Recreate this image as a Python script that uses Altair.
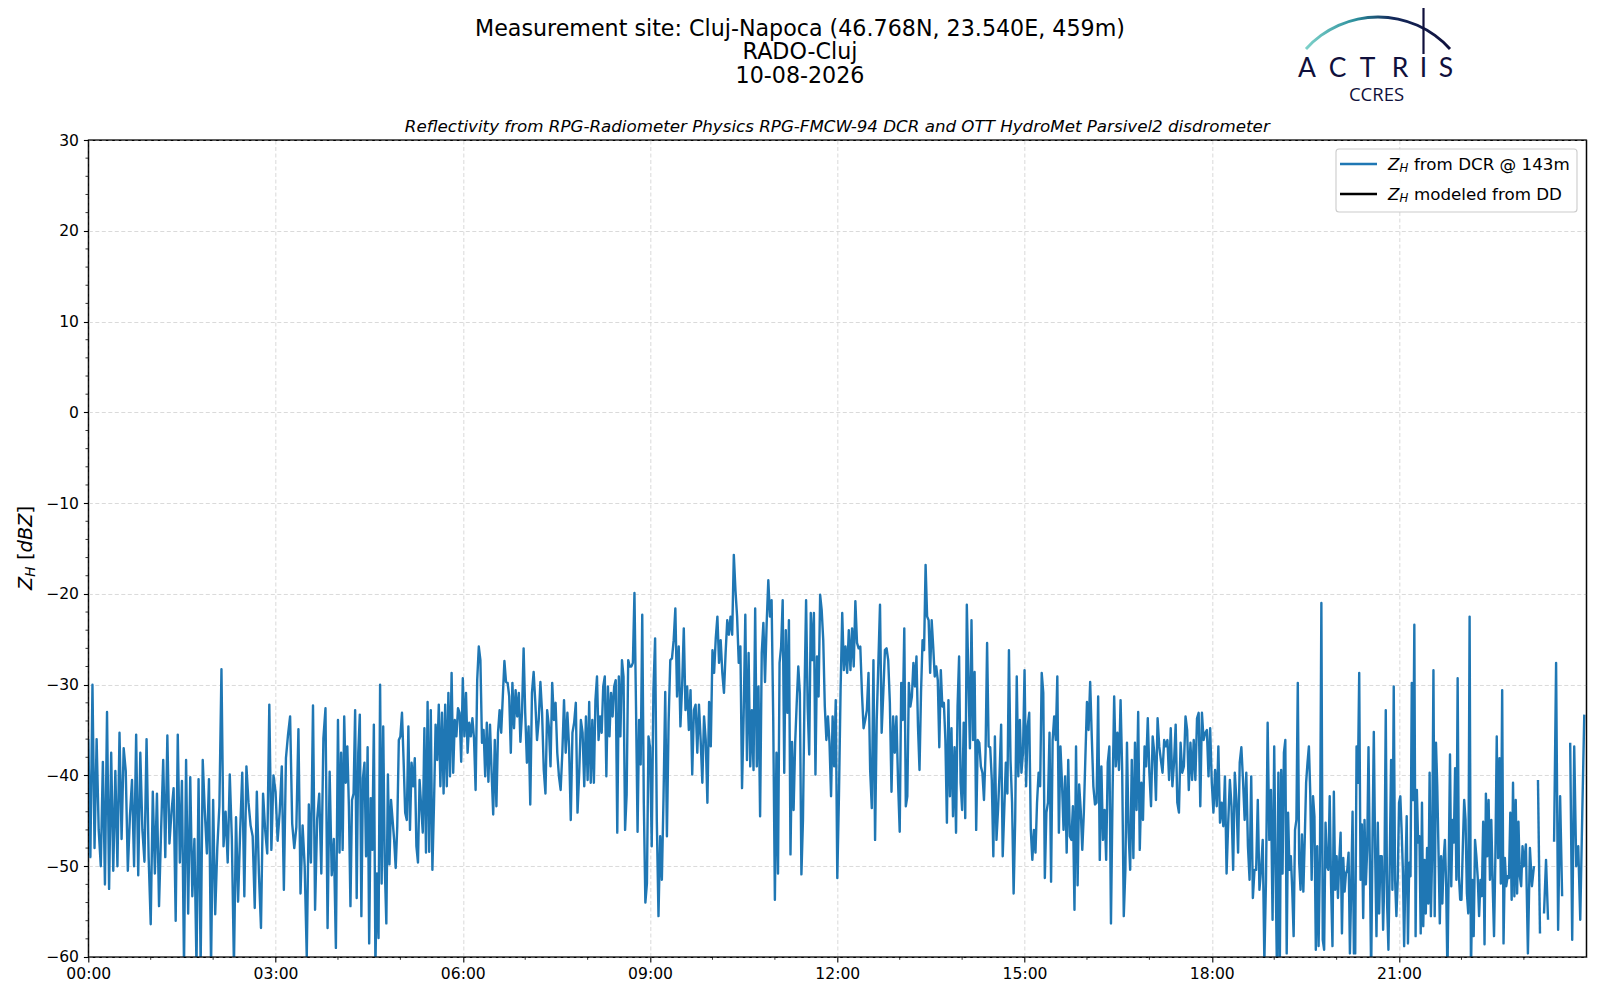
import altair as alt
import pandas as pd

# ---- data: reflectivity Z_H (dBZ), one list per hour, values spread evenly inside the hour
zh_00_05 = [
    [-36, -49, -30, -48, -36, -46, -50, -38.5, -52, -33, -52.5, -37.5, -50.5, -39.5, -50, -35.3, -47, -37, -39.5, -50.5, -44.5, -40.5, -50, -35.5, -51, -37.5, -46, -49.5, -36, -49],
    [-56.4, -41.8, -50.8, -42, -54.4, -46, -38.3, -49, -35.6, -47.5, -44, -41.4, -56, -35.5, -49.6, -40.6, -61, -38.3, -55.2, -40.2, -53.3, -47, -61, -40.4, -61, -38.3, -44, -48.6, -40.4, -61],
    [-42.7, -55.3, -48, -43.4, -28.3, -47.8, -44, -49.6, -39.9, -47, -61, -44.6, -53.9, -46, -39.7, -53.3, -39, -43, -45.5, -46.7, -54.6, -41.8, -50.8, -56.8, -42, -46, -48.6, -32.2, -48.2, -40],
    [-41.8, -47.2, -44, -39, -52.6, -38.1, -35.5, -33.5, -45.3, -48, -45.7, -34.9, -53, -45.5, -50, -60, -43.2, -49.6, -32.3, -54.8, -44.8, -42, -50.8, -35.9, -32.6, -56.8, -39.6, -51, -47, -59],
    [-33.9, -48.5, -37.5, -48.2, -33.5, -40.8, -36.8, -43.4, -54.4, -42.7, -42, -32.8, -53.5, -37.5, -33.3, -55.5, -40.3, -38.6, -48.9, -36.9, -58.5, -42.5, -48.2, -34.4, -61, -50.8, -57.9, -30, -51.9, -34.6, -50, -56.3, -39.9, -49.8, -42.7, -44.9, -47.1, -50.2, -45.6, -36.1],
    [-35.7, -33.1, -38.3, -44.1, -44.9, -34.6, -46, -38.6, -41.2, -38.1, -47.8, -49.6, -40.5, -43.4, -46.3, -34.8, -48.5, -31.9, -48.4, -32.8, -50.4, -43.2, -34.4, -38.3, -32.2, -41.2, -33.1, -42, -32.2, -41.2, -30.9, -40.1, -28.7, -39.7, -33.9, -35.7, -32.6, -33.1, -38.5],
]
zh_06_11 = [
    [-29.3, -35.7, -30.9, -37.5, -34.2, -35.7, -33.7, -35.9, -41.6, -29.5, -25.8, -27.3, -36.4, -35, -40.1, -34.2, -40.7, -34.4, -39.7, -44.3, -36.1, -43.4, -35.3, -32.8, -35.3, -31.3, -27.4, -29.7, -29.8, -31.3, -37.5, -29.8, -34.8, -30.6, -33.5, -30.9, -36.3, -33.1, -26],
    [-33.1, -38.6, -34.6, -43.2, -30.9, -28.6, -32, -36.1, -33.9, -29.7, -33.1, -39.4, -42, -32.8, -34.6, -39, -29.8, -33.9, -32, -37.5, -40.1, -41.6, -37.5, -31.7, -37.5, -33.1, -36.9, -44.9, -35.3, -34.2, -32, -44.1, -39.7, -33.9, -35.3, -41.2, -33.5],
    [-40.5, -31.9, -40.8, -33.9, -40.8, -31.7, -29.1, -36.1, -33.5, -35.3, -30.2, -29.1, -40.1, -30.2, -35.7, -30.9, -33.5, -30.2, -29.5, -46.3, -29.1, -35.7, -27.3, -29.1, -46, -42.1, -27.3, -28, -28, -27.6, -19.9, -32.4, -46.2, -33.9, -38.8, -22.3, -43, -54, -51.9, -35.7],
    [-36.9, -47.8, -30.6, -24.9, -44.9, -55.5, -46.7, -51.5, -42.3, -30.8, -46.7, -34.1, -27.3, -27.1, -25.1, -21.6, -31.3, -25.8, -34.6, -30.2, -23.8, -32.8, -30.2, -35, -30.6, -39.9, -32.8, -32.2, -37.5, -32.2, -36.1, -40.8, -33.5, -36.1, -43, -31.9, -36.8],
    [-26.2, -28.7, -24.9, -22.5, -27.6, -25.1, -28.7, -30.9, -26.5, -22.9, -24.5, -22.5, -24.5, -15.7, -19.6, -22.5, -27.6, -25.8, -41.4, -33.3, -22.3, -38.3, -26.5, -39, -32.8, -39.4, -21.6, -39, -30.2, -44.5, -26.5, -23.2, -29.7, -23.2, -18.5, -22.5, -20.7, -33.9],
    [-53.7, -37.5, -50.8, -27.6, -25.8, -20.7, -39.7, -24, -33.1, -22.9, -48.7, -36.3, -43.8, -36.4, -32, -28, -30.9, -50.9, -44.9, -30.9, -20.7, -32.4, -37.7, -22.1, -27.3, -22.1, -39.9, -26.9, -31.3, -20.1, -21.8, -25.1, -32.4, -36.1, -33.5, -36.4, -42.3, -33.5, -39, -31.7],
]
zh_12_17 = [
    [-51.3, -42.3, -30.6, -22.1, -28.4, -25.8, -28.7, -24, -28.4, -23.8, -28, -20.8, -25.4, -26, -25.8, -30.9, -34.8, -33.9, -32.8, -28.7, -39.4, -43.6, -27.3, -47.1, -33.9, -27.6, -21.2, -35.3, -30.9, -26.2, -26, -27.3, -32, -41.8, -33.5, -37.5, -33.5, -40.8],
    [-46.2, -29.8, -33.9, -23.8, -43.4, -42.3, -29.8, -32.4, -31.3, -27.6, -30.2, -26.9, -34.6, -39.4, -30.9, -25.1, -26.2, -16.8, -22.5, -22.9, -28.7, -22.9, -25.8, -29.1, -28, -29.5, -36.9, -28.4, -32.4, -32, -36.1, -45.2, -31.7, -42.3, -34.8, -44.5, -36.9, -46.3, -32.4, -26.9, -40.8],
    [-43.8, -34.2, -44.7, -21.2, -29.1, -37, -22.9, -36.1, -28.6, -46, -36.1, -36.4, -39, -39.7, -42.7, -37.5, -25.4, -36.8, -36.9, -40.5, -48.9, -35.7, -47.1, -43.8, -39.7, -34.4, -48.9, -43.8, -38.6, -42, -26.2, -38.3, -43, -53, -44.9, -29.1, -40.1, -33.9, -39.7, -37.5],
    [-28.4, -41.2, -34.6, -33.1, -46, -49.3, -46, -48.5, -43, -39.7, -41.2, -28.7, -30.9, -51.3, -44.1, -43, -35.3, -51.7, -36.1, -33.5, -36.1, -29.1, -46.3, -36.8, -40.8, -46, -40.1, -48.5, -38.3, -46.7, -47.1, -43.4, -54.8, -36.8, -52.1, -41, -43.8, -48.2, -44.1, -37.9],
    [-31.9, -35, -29.7, -35.7, -41.2, -43.2, -43, -31.3, -49.3, -39, -47.1, -43.8, -49.3, -38.6, -36.8, -56.3, -42, -31.3, -39, -35.3, -39.4, -31.7, -39.4, -55.5, -50.4, -36.4, -46.3, -50.4, -38.3, -49.1, -36.4, -43.8, -33, -48.2, -40.8, -44.9, -36.8, -39, -33.7],
    [-39.7, -43.4, -35.7, -37.5, -42.7, -33.7, -36.8, -38.3, -39.7, -36.1, -36.8, -36.1, -40.5, -34.8, -41.2, -38.6, -34.4, -43, -44.1, -36.4, -39.7, -39, -33.5, -35, -41.6, -36.4, -40.5, -36.1, -40.5, -33.7, -33.1, -43.4, -33.1, -36.1, -35.3, -35, -40.1, -34.8],
]
zh_18_23 = [
    [-40.8, -44.1, -39.4, -43.4, -36.8, -45.2, -43, -45.6, -40.1, -50.8, -45.2, -40.5, -43.4, -50.4, -39.7, -42.7, -48.5, -38.6, -36.9, -40.5, -44.9, -39.7, -47.8, -51.5, -40.1, -53.5, -50.4, -50.4, -42.7, -52.6, -50.4, -47.1, -60.5, -51.5, -34.2, -47.1, -41.6, -55.9],
    [-36.8, -50.4, -62, -39.7, -62, -39.4, -50.8, -37.5, -36.1, -59.6, -44.1, -50.4, -48.9, -52.6, -57.7, -46, -44.9, -29.8, -49.6, -52.6, -46.5, -52.8, -47.1, -40.8, -38.6, -36.8, -42, -51.5, -42.3, -44.5, -59.2, -47.8, -58.8, -48.5, -21, -58.1, -59.2, -45.2, -50, -50.4, -42.3, -52.2, -58.8, -41.8, -52.6],
    [-48.9, -53.5, -49.3, -46.3, -57.4, -49.1, -52.8, -50.8, -50.4, -48.5, -59.6, -52.2, -44, -59.6, -59.6, -36.8, -40.8, -28.7, -51.5, -45.4, -55.7, -44.9, -52, -48.2, -36.9, -49.3, -62, -47.1, -35.2, -48.5, -57.7, -45.2, -55.2, -48.9, -48.9, -57, -50.8, -32.8, -54.1, -59.2, -49.6, -38.3, -52.6, -30.2, -51.5, -55.5, -51.5],
    [-43, -42.3, -46, -50.4, -58.8, -50.8, -44.5, -58.5, -49.6, -51.1, -29.8, -42.7, -23.4, -57.7, -41.6, -47.4, -46.7, -57.4, -43, -56.6, -49.3, -55.2, -48, -54.1, -39.7, -55.5, -48.5, -28.4, -55.5, -36.4, -41.2, -48.5, -56.3, -48.9, -54.1, -49.3, -47.1, -52.2, -62, -50, -37.7, -52.2, -44.9, -47.4, -39.2, -51.5, -29.3, -51.1, -53.7],
    [-53.7, -47.8, -42.7, -44.9, -53, -55.2, -22.5, -62, -51.5, -57.7, -47.1, -48.9, -51.3, -55.5, -51.5, -53.3, -45.1, -58.6, -42, -48.9, -42.7, -51.5, -44.9, -52, -57.7, -48.9, -35.7, -49.1, -38.1, -51.9, -30.6, -58.5, -49.1, -52.2, -51.1, -51.3, -44.1, -53.7, -40.8, -53.3, -42.7, -53, -45.1, -51.1, -52.2, -47.8],
    [-50, -47.6, -59.6, -48, -52.2, -50, None, -40.5, -57.4, None, -55.2, -49.3, -55.9, None, None, -47.3, -27.6, -57, -42.3, -53.3, None, None, None, -36.4, -58.1, -36.8, -50, -47.8, -55.9, -44.2, -33.3],
]

x_major = [0, 3, 6, 9, 12, 15, 18, 21]
x_minor = [1, 2, 4, 5, 7, 8, 10, 11, 13, 14, 16, 17, 19, 20, 22, 23]
y_major = [-60, -50, -40, -30, -20, -10, 0, 10, 20, 30]
y_minor = [-58, -56, -54, -52, -48, -46, -44, -42, -38, -36, -34, -32, -28, -26, -24, -22,
           -18, -16, -14, -12, -8, -6, -4, -2, 2, 4, 6, 8, 12, 14, 16, 18, 22, 24, 26, 28]

title_lines = ["Measurement site: Cluj-Napoca (46.768N, 23.540E, 459m)", "RADO-Cluj", "10-08-2026"]
subtitle = "Reflectivity from RPG-Radiometer Physics RPG-FMCW-94 DCR and OTT HydroMet Parsivel2 disdrometer"
legend_rest = ["from DCR @ 143m", "modeled from DD"]
legend_colors = ["#1f77b4", "#000000"]

# ---- build table
all_hours = zh_00_05 + zh_06_11 + zh_12_17 + zh_18_23
rows = []
seg = 0
for h, vals in enumerate(all_hours):
    n = len(vals)
    for k, v in enumerate(vals):
        if v is None:
            seg += 1
            continue
        rows.append({"t": h + k / n, "z": v, "seg": seg})
df = pd.DataFrame(rows)

W, H = 1498, 817
OX, OY = 88.3, 140.0   # plot origin in page pixels
FONT = "DejaVu Sans"
one = pd.DataFrame({"k": [0]})

xscale = alt.Scale(domain=[0, 24], nice=False, zero=False)
yscale = alt.Scale(domain=[-60, 30], nice=False, zero=False)

grid_kw = dict(grid=True, gridColor="#d0d0d0", gridDash=[4, 2.5], gridWidth=0.8,
               tickColor="black", tickWidth=1.1, tickSize=4.9, labelPadding=4.9,
               labelFont=FONT, labelFontSize=15.6, labelColor="black",
               labelFlush=False, labelOverlap=False, domain=False, title=None)
xaxis = alt.Axis(values=x_major,
                 labelExpr="(datum.value < 10 ? '0' : '') + datum.value + ':00'",
                 **grid_kw)
yaxis = alt.Axis(values=y_major,
                 labelExpr="replace(format(datum.value, 'd'), '-', '\u2212')",
                 **grid_kw)

line = alt.Chart(df).mark_line(color="#1f77b4", strokeWidth=2.4, clip=True,
                               strokeJoin="round").encode(
    x=alt.X("t:Q", scale=xscale, axis=xaxis),
    y=alt.Y("z:Q", scale=yscale, axis=yaxis),
    detail="seg:N",
)

xminor = alt.Chart(pd.DataFrame({"t": x_minor})).mark_rule(color="black", strokeWidth=0.8).encode(
    x=alt.X("t:Q", scale=xscale, axis=xaxis), y=alt.value(H), y2=alt.value(H + 2.8))
yminor = alt.Chart(pd.DataFrame({"z": y_minor})).mark_rule(color="black", strokeWidth=0.8).encode(
    y=alt.Y("z:Q", scale=yscale, axis=yaxis), x=alt.value(0), x2=alt.value(-2.8))

# solid frame drawn above the gridlines
frame = alt.Chart(pd.DataFrame({"k": [0]})).mark_rect(fill="transparent", stroke="black",
                                                      strokeWidth=1.1).encode(
    x=alt.value(0), x2=alt.value(W), y=alt.value(0), y2=alt.value(H))


def txt(s, x, y, size, **kw):
    opts = dict(font=FONT, baseline="alphabetic", color="black")
    opts.update(kw)
    return alt.Chart(one).mark_text(text=s, fontSize=size, **opts).encode(
        x=alt.value(x - OX), y=alt.value(y - OY))


layers = [line, xminor, yminor, frame]

# titles
for s, yb in zip(title_lines, [36.3, 59.4, 82.5]):
    layers.append(txt(s, 800, yb, 22.2, align="center"))
layers.append(txt(subtitle, OX + W / 2, 131.5, 16.7, align="center", fontStyle="italic"))

# y-axis label  Z_H [dBZ]
layers.append(txt("Z", 31.7, 590, 19.4, align="left", angle=270, fontStyle="italic"))
layers.append(txt("H", 34.8, 576.7, 13.6, align="left", angle=270, fontStyle="italic"))
layers.append(txt("[", 31.7, 560, 19.4, align="left", angle=270))
layers.append(txt("dBZ", 31.7, 552.4, 19.4, align="left", angle=270, fontStyle="italic"))
layers.append(txt("]", 31.7, 513.5, 19.4, align="left", angle=270))

# legend
layers.append(alt.Chart(one).mark_rect(fill="white", fillOpacity=0.8, stroke="#cccccc",
                                       strokeWidth=1.1, cornerRadius=3).encode(
    x=alt.value(1336 - OX), x2=alt.value(1577 - OX), y=alt.value(149 - OY), y2=alt.value(212 - OY)))
for i, (rest, col) in enumerate(zip(legend_rest, legend_colors)):
    ly = 164 + 30 * i
    layers.append(alt.Chart(one).mark_rule(color=col, strokeWidth=2.4).encode(
        x=alt.value(1340 - OX), x2=alt.value(1377 - OX), y=alt.value(ly - OY)))
    layers.append(txt("Z", 1388, ly + 5.5, 16.7, align="left", fontStyle="italic"))
    layers.append(txt("H", 1399.4, ly + 8.2, 11.7, align="left", fontStyle="italic"))
    layers.append(txt(rest, 1414, ly + 5.5, 16.7, align="left"))

# ACTRIS / CCRES logo
NAVY = "#10103c"
grad = alt.LinearGradient(gradient="linear", x1=0, x2=1, y1=0, y2=0, stops=[
    alt.GradientStop(color="#7fd3ca", offset=0),
    alt.GradientStop(color="#2b8e9c", offset=0.35),
    alt.GradientStop(color="#13285a", offset=0.6),
    alt.GradientStop(color=NAVY, offset=1)])
layers.append(alt.Chart(one).mark_arc(radius=98.5, radius2=95.6, theta=5.447, theta2=7.119,
                                      fill=grad).encode(
    x=alt.value(1378 - OX), y=alt.value(114 - OY)))
layers.append(alt.Chart(one).mark_rule(color=NAVY, strokeWidth=2.2).encode(
    x=alt.value(1423.5 - OX), y=alt.value(8 - OY), y2=alt.value(54 - OY)))
for letter, cx in zip("ACTRIS", [1307, 1337.5, 1367.5, 1400, 1423.5, 1446]):
    layers.append(txt(letter, cx, 77, 26.5, align="center", font="Lato", color=NAVY))
layers.append(txt("CCRES", 1376.5, 100.5, 18.5, align="center", font="Open Sans", color=NAVY))

chart = alt.layer(*layers).properties(
    width=W, height=H,
    padding={"left": OX - 8, "top": OY - 8, "right": 4, "bottom": 32},
    autosize=alt.AutoSizeParams(type="none"),
    background="white",
).configure_view(stroke="black", strokeWidth=1.1)

chart.save("out.html", embed_options={"renderer": "svg", "actions": False})
